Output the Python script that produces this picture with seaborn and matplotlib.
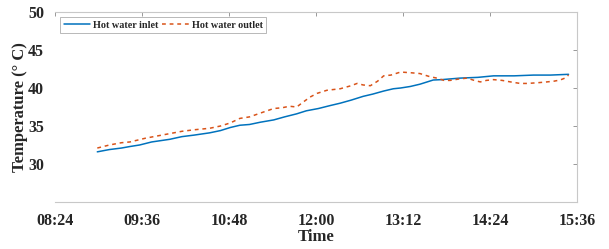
import matplotlib
matplotlib.use("Agg")
import matplotlib.pyplot as plt
import matplotlib.dates as mdates
import seaborn as sns
import pandas as pd
import numpy as np

# minutes after 08:24
inlet_t = [35, 45, 55, 62, 70, 80, 95, 105, 115, 128, 137, 145, 153, 161, 170, 181, 190, 200,
           208, 218, 228, 236, 245, 255, 263, 272, 280, 286, 294, 302, 308, 313, 320, 335,
           350, 363, 380, 396, 410, 425]
inlet_v = [31.6, 31.9, 32.1, 32.3, 32.5, 32.9, 33.25, 33.6, 33.8, 34.1, 34.4, 34.8, 35.1, 35.2,
           35.5, 35.8, 36.2, 36.6, 37.0, 37.3, 37.7, 38.0, 38.4, 38.9, 39.2, 39.6, 39.9, 40.0,
           40.2, 40.5, 40.8, 41.05, 41.1, 41.3, 41.4, 41.6, 41.6, 41.7, 41.7, 41.8]
outlet_t = [35, 45, 55, 62, 75, 85, 95, 105, 115, 128, 137, 145, 153, 161, 170, 181, 188, 194,
            200, 205, 211, 217, 225, 236, 245, 250, 255, 261, 267, 272, 278, 286, 295, 302,
            310, 316, 322, 327, 335, 341, 347, 352, 357, 363, 370, 377, 385, 391, 400, 407,
            413, 418, 422, 425]
outlet_v = [32.1, 32.5, 32.8, 32.9, 33.4, 33.7, 34.0, 34.3, 34.5, 34.7, 35.0, 35.4, 36.0, 36.2,
            36.7, 37.3, 37.4, 37.6, 37.5, 38.1, 38.8, 39.3, 39.7, 39.9, 40.3, 40.6, 40.4, 40.3,
            40.9, 41.6, 41.7, 42.1, 42.0, 41.9, 41.5, 41.3, 41.0, 41.0, 41.2, 41.3, 41.0, 40.8,
            41.0, 41.1, 41.0, 40.8, 40.6, 40.6, 40.7, 40.8, 40.9, 41.05, 41.3, 41.7]
x_ticks = ["08:24", "09:36", "10:48", "12:00", "13:12", "14:24", "15:36"]
y_ticks = [30, 35, 40, 45, 50]

base = pd.Timestamp("2020-01-01 08:24")
df_in = pd.DataFrame({"Time": [base + pd.Timedelta(minutes=m) for m in inlet_t],
                      "Temp": inlet_v, "Series": "Hot water inlet"})
df_out = pd.DataFrame({"Time": [base + pd.Timedelta(minutes=m) for m in outlet_t],
                       "Temp": outlet_v, "Series": "Hot water outlet"})

sns.set_style("white")
plt.rcParams["font.family"] = ["Liberation Serif", "DejaVu Serif"]
plt.rcParams["font.weight"] = "bold"

fig = plt.figure(figsize=(6.09, 2.49), dpi=100)
ax = fig.add_axes([55 / 609, 1 - 202 / 249, (577 - 55) / 609, (202 - 12) / 249])

sns.lineplot(data=df_in, x="Time", y="Temp", ax=ax, color="#0072BD", lw=1.1,
             label="Hot water inlet")
sns.lineplot(data=df_out, x="Time", y="Temp", ax=ax, color="#D95319", lw=1.1,
             linestyle=(0, (2.5, 2.5)), label="Hot water outlet")

tick_times = [pd.Timestamp("2020-01-01 " + s) for s in x_ticks]
ax.set_xlim(tick_times[0], tick_times[-1])
ax.set_xticks(tick_times)
ax.xaxis.set_major_formatter(mdates.DateFormatter("%H:%M"))
ax.set_ylim(25, 50)
ax.set_yticks(y_ticks)

for s in ["top", "bottom", "right"]:
    ax.spines[s].set_color("#c8c8c8")
    ax.spines[s].set_linewidth(0.8)
ax.spines["left"].set_visible(False)
ax.tick_params(axis="both", direction="in", length=3, width=0.6, color="#888888",
               labelsize=11.5, top=True, right=True, pad=8)
for lab in ax.get_xticklabels() + ax.get_yticklabels():
    lab.set_fontweight("bold")

ax.set_xlabel("Time", fontsize=12, fontweight="bold", labelpad=0)
ax.set_ylabel("Temperature (° C)", fontsize=12, fontweight="bold", labelpad=0)

leg = ax.legend(loc="upper left", ncol=2, fontsize=7.3, frameon=True, fancybox=False,
                handlelength=2.6, columnspacing=0.4, handletextpad=0.3,
                borderpad=0.35, borderaxespad=0.5)
leg.get_frame().set_edgecolor("#999999")
leg.get_frame().set_linewidth(0.6)
for t in leg.get_texts():
    t.set_fontweight("bold")

fig.savefig("out.png", dpi=100)
